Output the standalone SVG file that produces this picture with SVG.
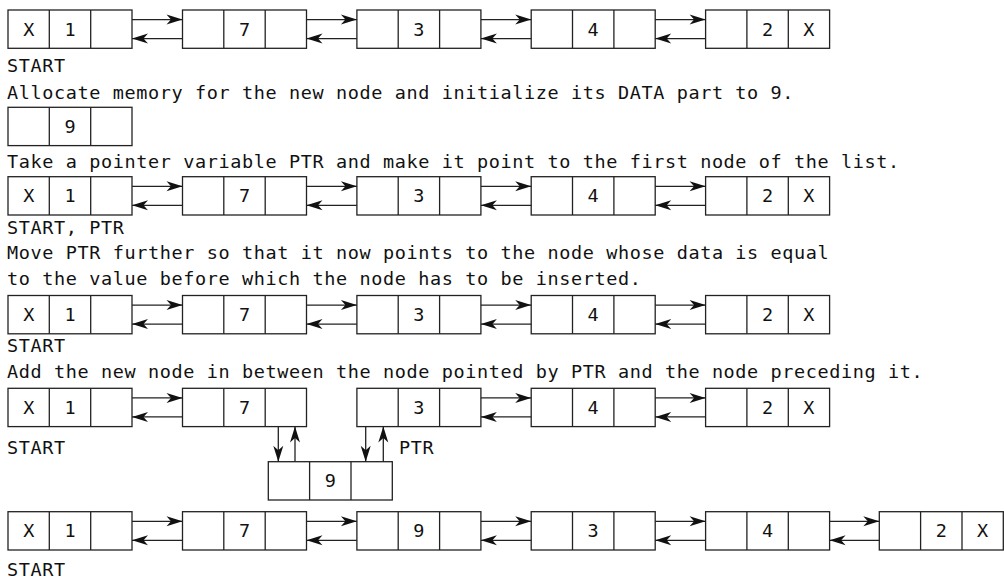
<svg xmlns="http://www.w3.org/2000/svg" width="1004" height="578" viewBox="0 0 1004 578">
<defs>
<style>
.box{fill:#fff;stroke:#222;stroke-width:1.3}
.div{stroke:#222;stroke-width:1.3}
.v{font-family:"DejaVu Sans Mono","Liberation Mono",monospace;font-size:18.5px;fill:#111;text-anchor:middle}
.t{font-family:"DejaVu Sans Mono","Liberation Mono",monospace;font-size:18.5px;fill:#111;letter-spacing:0.61px}
.c{fill:none;stroke:#222;stroke-width:1.3;marker-end:url(#ah)}
</style>
<marker id="ah" markerUnits="userSpaceOnUse" markerWidth="18" markerHeight="12" viewBox="-17 -6 18 12" refX="0" refY="0" orient="auto"><path d="M0,0 L-16,-5 L-11.5,0 L-16,5 Z" fill="#111"/></marker>
<g id="cells"><rect class="box" width="124" height="38.3"/><line class="div" x1="41.3" y1="0" x2="41.3" y2="38.3"/><line class="div" x1="82.7" y1="0" x2="82.7" y2="38.3"/></g>
</defs>
<rect width="1004" height="578" fill="#fff"/>

<!-- Row 1 -->
<g id="r1n1" transform="translate(8,10)"><use href="#cells"/><text class="v" x="20.7" y="25.7">X</text><text class="v" x="62" y="25.7">1</text></g>
<g id="r1n2" transform="translate(182.5,10)"><use href="#cells"/><text class="v" x="62" y="25.7">7</text></g>
<g id="r1n3" transform="translate(356.9,10)"><use href="#cells"/><text class="v" x="62" y="25.7">3</text></g>
<g id="r1n4" transform="translate(531.2,10)"><use href="#cells"/><text class="v" x="62" y="25.7">4</text></g>
<g id="r1n5" transform="translate(705.6,10)"><use href="#cells"/><text class="v" x="62" y="25.7">2</text><text class="v" x="103.3" y="25.7">X</text></g>
<text class="t" x="7" y="71.7">START</text>
<text class="t" x="7" y="99.3">Allocate memory for the new node and initialize its DATA part to 9.</text>

<!-- Row 2 -->
<g id="r2n1" transform="translate(8,107.3)"><use href="#cells"/><text class="v" x="62" y="25.7">9</text></g>
<text class="t" x="7" y="168.3">Take a pointer variable PTR and make it point to the first node of the list.</text>

<!-- Row 3 -->
<g id="r3n1" transform="translate(8,176.7)"><use href="#cells"/><text class="v" x="20.7" y="25.7">X</text><text class="v" x="62" y="25.7">1</text></g>
<g id="r3n2" transform="translate(182.5,176.7)"><use href="#cells"/><text class="v" x="62" y="25.7">7</text></g>
<g id="r3n3" transform="translate(356.9,176.7)"><use href="#cells"/><text class="v" x="62" y="25.7">3</text></g>
<g id="r3n4" transform="translate(531.2,176.7)"><use href="#cells"/><text class="v" x="62" y="25.7">4</text></g>
<g id="r3n5" transform="translate(705.6,176.7)"><use href="#cells"/><text class="v" x="62" y="25.7">2</text><text class="v" x="103.3" y="25.7">X</text></g>
<text class="t" x="7" y="233.5">START, PTR</text>
<text class="t" x="7" y="259.3">Move PTR further so that it now points to the node whose data is equal</text>
<text class="t" x="7" y="285.2">to the value before which the node has to be inserted.</text>

<!-- Row 4 -->
<g id="r4n1" transform="translate(8,295.5)"><use href="#cells"/><text class="v" x="20.7" y="25.7">X</text><text class="v" x="62" y="25.7">1</text></g>
<g id="r4n2" transform="translate(182.5,295.5)"><use href="#cells"/><text class="v" x="62" y="25.7">7</text></g>
<g id="r4n3" transform="translate(356.9,295.5)"><use href="#cells"/><text class="v" x="62" y="25.7">3</text></g>
<g id="r4n4" transform="translate(531.2,295.5)"><use href="#cells"/><text class="v" x="62" y="25.7">4</text></g>
<g id="r4n5" transform="translate(705.6,295.5)"><use href="#cells"/><text class="v" x="62" y="25.7">2</text><text class="v" x="103.3" y="25.7">X</text></g>
<text class="t" x="7" y="352.3">START</text>
<text class="t" x="7" y="378.3">Add the new node in between the node pointed by PTR and the node preceding it.</text>

<!-- Row 5 -->
<g id="r5n1" transform="translate(8,388.3)"><use href="#cells"/><text class="v" x="20.7" y="25.7">X</text><text class="v" x="62" y="25.7">1</text></g>
<g id="r5n2" transform="translate(182.5,388.3)"><use href="#cells"/><text class="v" x="62" y="25.7">7</text></g>
<g id="r5n3" transform="translate(356.9,388.3)"><use href="#cells"/><text class="v" x="62" y="25.7">3</text></g>
<g id="r5n4" transform="translate(531.2,388.3)"><use href="#cells"/><text class="v" x="62" y="25.7">4</text></g>
<g id="r5n5" transform="translate(705.6,388.3)"><use href="#cells"/><text class="v" x="62" y="25.7">2</text><text class="v" x="103.3" y="25.7">X</text></g>
<g id="newnode" transform="translate(268.3,461.7)"><use href="#cells"/><text class="v" x="62" y="25.7">9</text></g>
<text class="t" x="7" y="454">START</text>
<text class="t" x="399" y="454">PTR</text>

<!-- Row 6 -->
<g id="r6n1" transform="translate(8,511.7)"><use href="#cells"/><text class="v" x="20.7" y="25.7">X</text><text class="v" x="62" y="25.7">1</text></g>
<g id="r6n2" transform="translate(182.5,511.7)"><use href="#cells"/><text class="v" x="62" y="25.7">7</text></g>
<g id="r6n3" transform="translate(356.9,511.7)"><use href="#cells"/><text class="v" x="62" y="25.7">9</text></g>
<g id="r6n4" transform="translate(531.2,511.7)"><use href="#cells"/><text class="v" x="62" y="25.7">3</text></g>
<g id="r6n5" transform="translate(705.6,511.7)"><use href="#cells"/><text class="v" x="62" y="25.7">4</text></g>
<g id="r6n6" transform="translate(879.3,511.7)"><use href="#cells"/><text class="v" x="62" y="25.7">2</text><text class="v" x="103.3" y="25.7">X</text></g>
<text class="t" x="7" y="575.5">START</text>

<g id="connectors">
<!-- row 1 -->
<path class="c" d="M132,19.6H182.5"/><path class="c" d="M182.5,38.6H132"/>
<path class="c" d="M306.5,19.6H356.9"/><path class="c" d="M356.9,38.6H306.5"/>
<path class="c" d="M480.9,19.6H531.2"/><path class="c" d="M531.2,38.6H480.9"/>
<path class="c" d="M655.2,19.6H705.6"/><path class="c" d="M705.6,38.6H655.2"/>
<!-- row 3 -->
<path class="c" d="M132,186.3H182.5"/><path class="c" d="M182.5,205.3H132"/>
<path class="c" d="M306.5,186.3H356.9"/><path class="c" d="M356.9,205.3H306.5"/>
<path class="c" d="M480.9,186.3H531.2"/><path class="c" d="M531.2,205.3H480.9"/>
<path class="c" d="M655.2,186.3H705.6"/><path class="c" d="M705.6,205.3H655.2"/>
<!-- row 4 -->
<path class="c" d="M132,305.1H182.5"/><path class="c" d="M182.5,324.1H132"/>
<path class="c" d="M306.5,305.1H356.9"/><path class="c" d="M356.9,324.1H306.5"/>
<path class="c" d="M480.9,305.1H531.2"/><path class="c" d="M531.2,324.1H480.9"/>
<path class="c" d="M655.2,305.1H705.6"/><path class="c" d="M705.6,324.1H655.2"/>
<!-- row 5 -->
<path class="c" d="M132,397.9H182.5"/><path class="c" d="M182.5,416.9H132"/>
<path class="c" d="M480.9,397.9H531.2"/><path class="c" d="M531.2,416.9H480.9"/>
<path class="c" d="M655.2,397.9H705.6"/><path class="c" d="M705.6,416.9H655.2"/>
<path class="c" d="M278.3,426.6V461.7"/><path class="c" d="M295,461.7V426.6"/>
<path class="c" d="M365.7,426.6V461.7"/><path class="c" d="M383.3,461.7V426.6"/>
<!-- row 6 -->
<path class="c" d="M132,521.3H182.5"/><path class="c" d="M182.5,540.3H132"/>
<path class="c" d="M306.5,521.3H356.9"/><path class="c" d="M356.9,540.3H306.5"/>
<path class="c" d="M480.9,521.3H531.2"/><path class="c" d="M531.2,540.3H480.9"/>
<path class="c" d="M655.2,521.3H705.6"/><path class="c" d="M705.6,540.3H655.2"/>
<path class="c" d="M829.6,521.3H879.3"/><path class="c" d="M879.3,540.3H829.6"/>
</g>
</svg>
